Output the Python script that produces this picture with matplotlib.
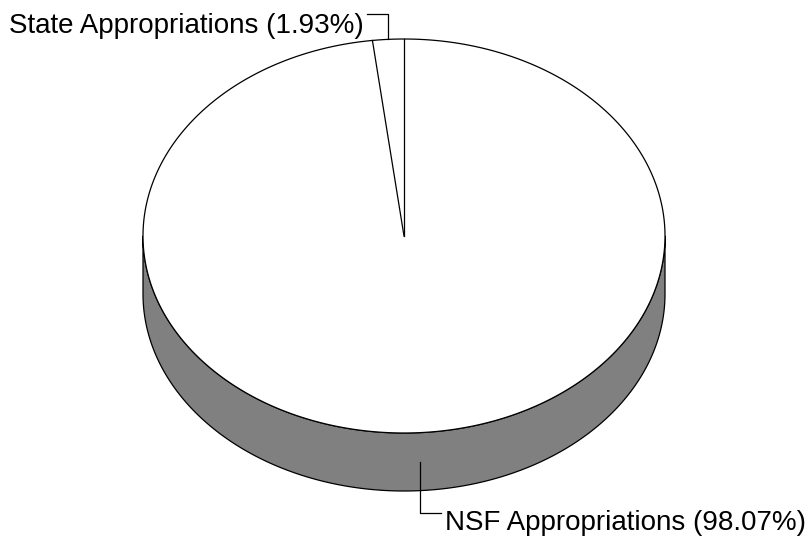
import numpy as np
import matplotlib
matplotlib.use("Agg")
import matplotlib.pyplot as plt
from matplotlib.patches import Polygon

labels = ["State Appropriations", "NSF Appropriations"]
shares = [1.93, 98.07]

W, H = 810, 539
fig = plt.figure(figsize=(W / 100, H / 100), dpi=100)
ax = fig.add_axes([0, 0, 1, 1])
ax.set_xlim(0, W)
ax.set_ylim(H, 0)
ax.axis("off")

cx, cy, rx, ry, depth = 404, 236, 261, 197, 58
lw = 0.9
font = dict(family=["Liberation Sans", "DejaVu Sans"], fontsize=19.95, color="black")


def pt(a_deg, dy=0.0):
    a = np.radians(a_deg)
    return cx + rx * np.cos(a), cy - ry * np.sin(a) + dy


# side wall (front half: angles 180..360)
angs = np.linspace(180, 360, 200)
top = [pt(a) for a in angs]
bot = [pt(a, depth) for a in angs[::-1]]
ax.add_patch(Polygon(top + bot, closed=True, facecolor="#808080",
                     edgecolor="black", lw=lw, joinstyle="round"))

# top face
angs_all = np.linspace(0, 360, 400)
ax.add_patch(Polygon([pt(a) for a in angs_all], closed=True, facecolor="white",
                     edgecolor="black", lw=lw))

# slice boundaries (counterclockwise from top)
start = 90.0
total = sum(shares)
bounds = [start]
for s in shares:
    bounds.append(bounds[-1] + 360 * s / total)
for b in bounds[:-1]:
    x, y = pt(b)
    ax.plot([cx, x], [cy, y], color="black", lw=lw)

# labels with leader lines
# State slice
mid0 = (bounds[0] + bounds[1]) / 2
ax0, ay0 = pt(mid0)
ax.plot([367, ax0, ax0], [14, 14, ay0], color="black", lw=lw)
ax.text(9, 33, f"{labels[0]} ({shares[0]:.2f}%)", ha="left", va="baseline", **font)

# NSF slice
mid1 = (bounds[1] + bounds[2]) / 2
ax1, ay1 = pt(mid1, depth / 2)
ax.plot([ax1, ax1, 441], [ay1, 513, 513], color="black", lw=lw)
ax.text(445, 530, f"{labels[1]} ({shares[1]:.2f}%)", ha="left", va="baseline", **font)

fig.savefig("out.png", dpi=100)
